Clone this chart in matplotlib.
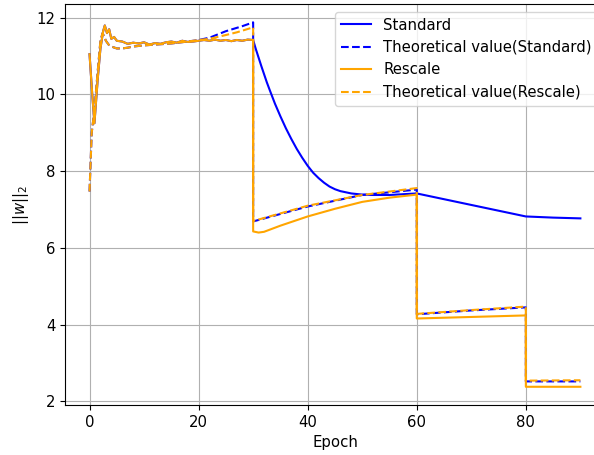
import matplotlib
matplotlib.use("Agg")
import matplotlib.pyplot as plt
import numpy as np

plt.rcParams["font.size"] = 10.7

# shared warm-up phase (epochs 0-30), identical for both runs
early_epochs = [0, 0.5, 0.9, 1.5, 2.0, 2.5, 2.8, 3.2, 3.6, 4.0, 4.5, 5, 6, 7, 8, 9, 10,
                11, 12, 13, 14, 15, 16, 17, 18, 19, 20, 21, 22, 23, 24, 25, 26, 27,
                28, 29, 30]
early_norm = [11.05, 10.0, 9.25, 10.4, 11.2, 11.65, 11.8, 11.6, 11.7, 11.45, 11.5, 11.4,
              11.38, 11.32, 11.35, 11.33, 11.36, 11.30, 11.34, 11.32, 11.36, 11.38, 11.35,
              11.40, 11.37, 11.38, 11.40, 11.42, 11.40, 11.43, 11.40, 11.42, 11.39, 11.42,
              11.40, 11.43, 11.42]

early_theory_epochs = [0, 0.4, 0.9, 1.5, 2.0, 2.4, 3.0, 3.5, 4, 5, 6, 7, 8, 10, 12, 15, 18, 20]
early_theory = [7.47, 9.0, 9.6, 10.6, 11.4, 11.6, 11.4, 11.3, 11.25, 11.2, 11.2, 11.22,
                11.25, 11.28, 11.3, 11.33, 11.38, 11.42]

# Standard
std_epochs_late = [30.5, 31, 31.5, 32, 32.5, 33, 34, 35, 36, 37, 38, 39, 40, 41, 42, 43,
                   44, 45, 46, 48, 50, 52, 55, 60, 70, 80, 85, 90]
std_norm_late = [11.18, 10.96, 10.74, 10.53, 10.32, 10.13, 9.76, 9.43, 9.12, 8.84, 8.58,
                 8.35, 8.14, 7.96, 7.82, 7.70, 7.60, 7.53, 7.48, 7.42, 7.39, 7.38, 7.38,
                 7.42, 7.12, 6.82, 6.79, 6.77]

std_theory_epochs_late = [22, 25, 28, 30, 30, 40, 50, 60, 60, 70, 80, 80, 90]
std_theory_late = [11.48, 11.65, 11.78, 11.88, 6.69, 7.08, 7.38, 7.52, 4.27, 4.37, 4.45,
                   2.52, 2.52]

# Rescale
res_epochs_late = [30, 31, 32, 35, 40, 45, 50, 55, 60, 60, 70, 80, 80, 90]
res_norm_late = [6.43, 6.40, 6.42, 6.58, 6.82, 7.02, 7.20, 7.31, 7.39, 4.16, 4.20, 4.24,
                 2.38, 2.38]

res_theory_epochs_late = [22, 25, 27, 30, 30, 40, 50, 60, 60, 70, 80, 80, 90]
res_theory_late = [11.45, 11.55, 11.62, 11.75, 6.70, 7.10, 7.38, 7.56, 4.28, 4.38, 4.47,
                   2.54, 2.55]

fig = plt.figure(figsize=(5.94, 4.55), dpi=100)
ax = fig.add_axes([0.1094, 0.1099, 0.909, 0.881])

ax.plot(early_epochs + std_epochs_late, early_norm + std_norm_late,
        color="blue", label="Standard")
ax.plot(early_theory_epochs + std_theory_epochs_late, early_theory + std_theory_late,
        color="blue", linestyle="--", label="Theoretical value(Standard)")
ax.plot(early_epochs + res_epochs_late, early_norm + res_norm_late,
        color="orange", label="Rescale")
ax.plot(early_theory_epochs + res_theory_epochs_late, early_theory + res_theory_late,
        color="orange", linestyle="--", label="Theoretical value(Rescale)")

ax.set_xlabel("Epoch")
ax.set_ylabel(r"$||w||_2$")
ax.set_xticks([0, 20, 40, 60, 80])
ax.grid(True)
ax.legend(loc="upper right")

fig.savefig("out.png", dpi=100)
